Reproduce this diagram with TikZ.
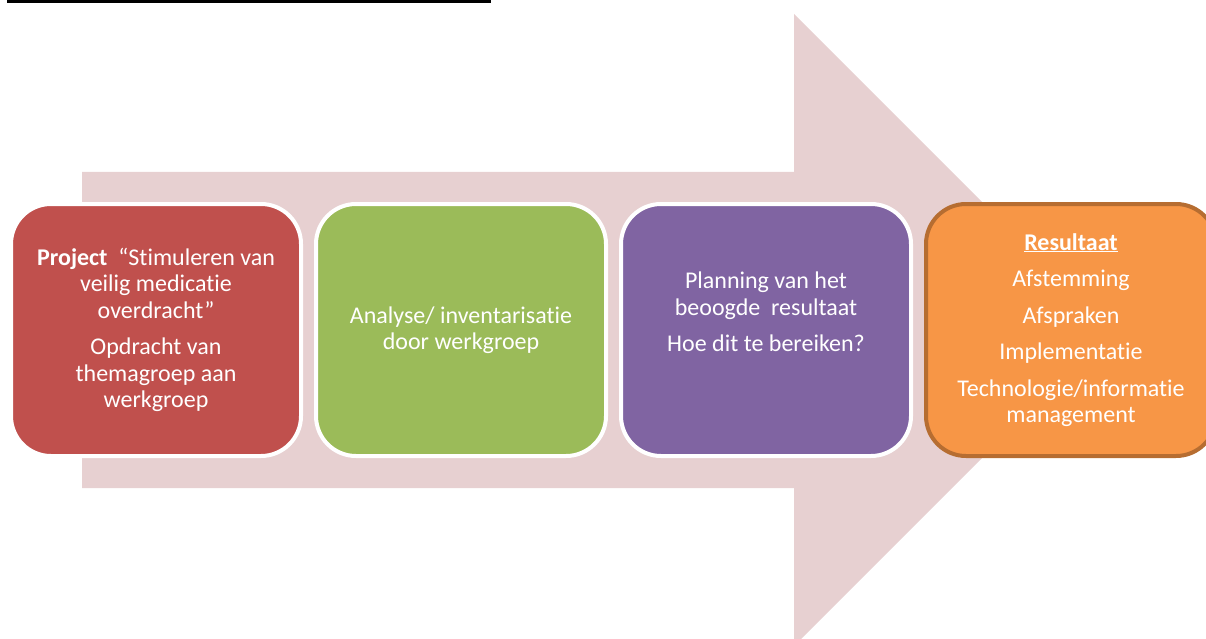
\documentclass[tikz,border=0pt]{standalone}
\usepackage{fontspec}
\setmainfont{Carlito}[Ligatures = NoCommon, Contextuals = NoAlternate]
\usepackage{tikz}
\usetikzlibrary{positioning}
\definecolor{arrowpink}{RGB}{231,208,209}
\definecolor{boxred}{HTML}{C0504D}
\definecolor{boxgreen}{HTML}{9BBB59}
\definecolor{boxpurple}{HTML}{8064A2}
\definecolor{boxorange}{HTML}{F79646}
\definecolor{boxbrown}{HTML}{B66D31}
\begin{document}
\begin{tikzpicture}[x = 1pt, y = -1pt,
  every node/.style = { align = center, text = white, font = \fontsize{24}{26.5}\selectfont },
  stage/.style = { draw = white, line width = 4pt, rounded corners = 40pt,
                   minimum width = 290pt, minimum height = 252pt, inner sep = 0pt }]
    \useasboundingbox (0,0) rectangle (1206,639);
    \clip (0,0) rectangle (1206,639);
    \fill[arrowpink] (82,172) -- (794,172) -- (794,14) -- (1110,330) -- (794,646) -- (794,488) -- (82,488) -- cycle;
    \draw[line width = 3.5pt] (7,1.75) -- (491,1.75);

    \node[stage, fill = boxred] (project) at (156,330)
      { \textbf{Project}\ \ “Stimuleren van \\ veilig medicatie \\ overdracht” \\[10pt]
        Opdracht van \\ themagroep aan \\ werkgroep };
    \node[stage, fill = boxgreen, right = 11pt of project] (analyse)
      { Analyse/ inventarisatie \\ door werkgroep };
    \node[stage, fill = boxpurple, right = 11pt of analyse] (planning)
      { Planning van het \\ beoogde\ \ resultaat \\[10pt] Hoe dit te bereiken? \\[10pt] \mbox{} };
    \node[stage, fill = boxorange, draw = boxbrown, right = 11pt of planning] (resultaat)
      { \textbf{\underline{Resultaat}} \\[10pt] Afstemming \\[10pt] Afspraken \\[10pt]
        Implementatie \\[10pt] Technologie/informatie \\ management };
\end{tikzpicture}
\end{document}
